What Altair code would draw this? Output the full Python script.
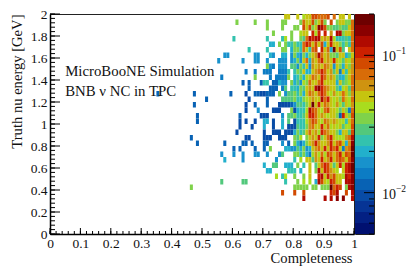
import altair as alt
import pandas as pd

FONT = "Liberation Serif"
Z_MIN, Z_MAX = 0.005, 0.2
CODES = "0123456789abcdefghij"
PALETTE = ["#001070", "#032083", "#063495", "#084ba6", "#0862b4", "#0c7cc4", "#1892cc",
           "#22b0cc", "#33c2ae", "#52c87c", "#7fd24a", "#a9dc1e", "#c6c40f", "#cf9310",
           "#d86c08", "#d24a00", "#cc2000", "#b00a00", "#8a0000", "#6e0000"]

# Dense part: completeness bins 0.81 .. 0.99, energy bins 39 (top) down to 6; band code per cell.
DENSE_FIRST_BIN = 81
DENSE_TOP_ROW = 39
DENSE = [
    "c.bccffeeef.e.cc.c.",
    ".aeccfacfa.f.accaae",
    "a.fcfacihfaa99a99ce",
    ".bcc.gbg.g.d.hhacce",
    ".a9ehghhcdchb88898e",
    "88egfcfcf7cgcca8a8e",
    "a8ec8ef.gce7jcf9.ce",
    "76a7acdhecdaa9cc79c",
    "a6ce7dcegcdcgcb9cbd",
    "6a8c6dcdcedc6ca7cad",
    "a9c77cdegecd9c5c8cd",
    "8a7bcedcgecdc977ace",
    "96baeccegcccc7c9abe",
    "7a9cdchigedcc97bc9e",
    "8a7cedcegecbdbcecad",
    "88abcdcchegcbcaecbe",
    "998acjcgcedcbdb9cbd",
    "788bhfecbefccb9ca5e",
    "889cggecdcbcca4gcaf",
    "888bdfecbedcdcbb8ce",
    "988adeccgcebcbc9bbf",
    "a89cecdbgedcca7cc9f",
    "9b.acdcgacegcbbbdeh",
    "757acdgdccdgcefc7di",
    "97a67cdecgcgegc5dej",
    "a8a75bdbebfecegcfej",
    ".b.cc9dcgcdgcefecfi",
    "a.8.c.9cegfc9cgbghj",
    ".7..c.ahcgfdcb.cghj",
    "..a.c..ghcgdfccbhgi",
    "a.b.b.7hfcbgfcc.hhi",
    "aaaa.aa.aaajegf.ahi",
    "..f........gfh..f.h",
    "..h......h.h.i.i..h",
]

# Sparse part: energy bin -> "bin:band" tokens for completeness bins below 0.81.
SPARSE = {
    39: "77:c 78:c",
    38: "61:a 67:a 71:a 76:a 77:a",
    37: "71:a 76:a 80:a",
    36: "73:a 79:a",
    35: "60:8 71:8 76:8 77:b 79:a",
    34: "72:7 73:7 75:a 77:a 78:8 79:8 80:a",
    33: "65:8 71:8 76:a 77:a 79:7 80:a",
    32: "57:6 58:6 67:6 68:6 72:7 73:6 76:7 77:7 79:6 80:a",
    31: "55:6 63:6 67:6 68:6 71:6 75:6 76:6 77:6 79:6 80:7",
    30: "71:a 72:6 73:5 75:6 76:6 77:6 79:9 80:9",
    29: "64:5 67:5 70:5 71:5 72:5 75:5 76:5 77:5 78:8 80:8",
    28: "56:5 67:a 72:5 74:5 75:5 76:5 77:5 78:a 80:7",
    27: "63:4 65:4 69:4 70:8 71:8 73:4 74:4 75:7 76:6 77:6 79:a 80:7",
    26: "65:4 72:4 73:4 74:4 76:5 77:9 79:8 80:8",
    25: "35:4 47:4 59:4 64:3 67:4 68:4 69:3 70:3 71:4 72:4 73:4 75:a 77:6 78:9 79:9 80:a",
    24: "51:4 65:3 71:4 76:9 77:9 78:9 79:9 80:a",
    23: "47:4 64:3 67:4 71:4 75:3 76:3 77:3 78:3 79:4 80:6",
    22: "64:3 68:6 73:3 74:3 75:3 79:a 80:3",
    21: "48:4 62:4 69:3 70:3 71:3 76:6 78:9 79:9 80:a",
    20: "48:4 62:3 64:3 67:3 70:7 71:7 73:3 76:7 78:9 80:3",
    19: "62:3 66:3 70:7 73:3 76:7 78:3 79:3 80:3",
    18: "61:3 70:3 73:3 74:3 75:3 77:3 78:3 79:3 80:7",
    17: "46:4 64:3 65:3 70:3 71:3 72:3 75:3 76:3 77:3 80:a",
    16: "48:4 57:4 63:4 64:4 66:4 70:4 71:4 76:6 78:4 80:a",
    15: "60:4 62:4 67:4 70:4 72:a 77:7 78:7 79:6 80:6",
    14: "56:6 60:6 63:6 67:6 68:6 71:6 75:6 76:9 80:a",
    13: "57:7 63:6 74:6 80:8",
    12: "70:7 73:9 74:9 77:7 78:7 79:7",
    11: "71:7 72:7 78:8 79:8 80:8",
    10: "74:b 76:8 77:b 80:a",
    9: "56:9 63:9 64:9 77:8",
    8: "46:a 80:a",
    7: "76:f 80:f",
}

X_LABELS = [0, 0.1, 0.2, 0.3, 0.4, 0.5, 0.6, 0.7, 0.8, 0.9, 1]
Y_LABELS = [0, 0.2, 0.4, 0.6, 0.8, 1, 1.2, 1.4, 1.6, 1.8, 2]
X_MINOR = [round(i * 0.02, 2) for i in range(51)]
Y_MINOR = [round(i * 0.04, 2) for i in range(51)]
Z_MAJOR = [0.01, 0.1]
Z_MINOR = [0.005, 0.006, 0.007, 0.008, 0.009, 0.02, 0.03, 0.04, 0.05, 0.06, 0.07, 0.08, 0.09, 0.2]
NOTES = ["MicroBooNE Simulation", "BNB \u03bd NC in TPC"]
NOTE_Y = [1.436, 1.255]

step = (Z_MAX / Z_MIN) ** (1 / len(PALETTE))
edges = [Z_MIN * step ** k for k in range(len(PALETTE) + 1)]
centres = [Z_MIN * step ** (k + 0.5) for k in range(len(PALETTE))]

rows = []
def add(col, row, code):
    rows.append({"x": col * 0.01, "x2": (col + 1) * 0.01, "y": row * 0.05, "y2": (row + 1) * 0.05,
                 "value": centres[CODES.index(code)]})
for i, text in enumerate(DENSE):
    for j, code in enumerate(text):
        if code != ".":
            add(DENSE_FIRST_BIN + j, DENSE_TOP_ROW - i, code)
for row, tokens in SPARSE.items():
    for token in tokens.split():
        col, code = token.split(":")
        add(int(col), row, code)
cells = pd.DataFrame(rows)

xs = alt.Scale(domain=[0, 1], nice=False, zero=False)
ys = alt.Scale(domain=[0, 2], nice=False, zero=False)
W, H = 304, 220

AX_X = alt.Axis(
    values=X_LABELS, format="~g", tickSize=0, grid=False, labelPadding=2, labelOverlap=False,
    labelFont=FONT, labelFontSize=13.5, labelColor="#111", labelFlush=False,
    domainColor="black", domainWidth=1.5, title="Completeness", titleFont=FONT,
    titleFontSize=14.6, titleFontWeight="normal", titleColor="#111", titleAnchor="end",
    titleAlign="right", titleX=302, titlePadding=1)
AX_Y = alt.Axis(
    values=Y_LABELS, format="~g", tickSize=0, grid=False, labelPadding=3, labelOverlap=False,
    labelFont=FONT, labelFontSize=13.5, labelColor="#111", labelFlush=False,
    domainColor="black", domainWidth=1.5, title="Truth nu energy [GeV]", titleFont=FONT,
    titleFontSize=14.6, titleFontWeight="normal", titleColor="#111", titleAnchor="end",
    titleBaseline="alphabetic", titleX=-29)

heat = alt.Chart(cells).mark_rect(strokeWidth=0).encode(
    x=alt.X("x:Q", scale=xs, axis=AX_X),
    x2="x2:Q",
    y=alt.Y("y:Q", scale=ys, axis=AX_Y),
    y2="y2:Q",
    color=alt.Color("value:Q", scale=alt.Scale(type="threshold", domain=edges[1:-1], range=PALETTE), legend=None),
)

def ticks_x(vals, length, width):
    return alt.Chart(pd.DataFrame({"x": vals})).mark_rule(color="black", strokeWidth=width).encode(
        x=alt.X("x:Q", scale=xs, axis=AX_X), y=alt.value(H), y2=alt.value(H - length))

def ticks_y(vals, length, width):
    return alt.Chart(pd.DataFrame({"y": vals})).mark_rule(color="black", strokeWidth=width).encode(
        y=alt.Y("y:Q", scale=ys, axis=AX_Y), x=alt.value(0), x2=alt.value(length))

notes = alt.Chart(pd.DataFrame({"t": NOTES, "y": NOTE_Y, "x": [0.05, 0.05]})).mark_text(
    font=FONT, fontSize=14.8, align="left", baseline="alphabetic", color="#111"
).encode(x=alt.X("x:Q", scale=xs, axis=AX_X), y=alt.Y("y:Q", scale=ys, axis=AX_Y), text="t:N")

main = alt.layer(heat, ticks_x(X_MINOR, 3, 1), ticks_x(X_LABELS, 6, 1),
                 ticks_y(Y_MINOR, 5, 1), ticks_y(Y_LABELS, 10, 1), notes
                 ).resolve_scale(color="independent").properties(width=W, height=H)

bar_df = pd.DataFrame({"lo": edges[:-1], "hi": edges[1:], "value": centres})
zs = alt.Scale(type="log", domain=[Z_MIN, Z_MAX], nice=False)
bar = alt.Chart(bar_df).mark_rect(strokeWidth=0).encode(
    x=alt.value(0), x2=alt.value(19),
    y=alt.Y("lo:Q", scale=zs, axis=None), y2="hi:Q",
    color=alt.Color("value:Q", scale=alt.Scale(type="threshold", domain=edges[1:-1], range=PALETTE), legend=None),
)
def ticks_z(vals, length):
    return alt.Chart(pd.DataFrame({"z": vals})).mark_rule(color="black", strokeWidth=1).encode(
        y=alt.Y("z:Q", scale=zs, axis=None), x=alt.value(19), x2=alt.value(19 - length))

z_text = pd.DataFrame({"z": Z_MAJOR, "base": ["10", "10"], "exp": ["\u22122", "\u22121"]})
z_base = alt.Chart(z_text).mark_text(font=FONT, fontSize=14, align="left", baseline="middle", dy=2, color="#111").encode(
    y=alt.Y("z:Q", scale=zs, axis=None), x=alt.value(27), text="base:N")
z_exp = alt.Chart(z_text).mark_text(font=FONT, fontSize=9.5, align="left", baseline="middle", dy=-4, color="#111").encode(
    y=alt.Y("z:Q", scale=zs, axis=None), x=alt.value(41), text="exp:N")
side = alt.layer(bar, ticks_z(Z_MINOR, 5), ticks_z(Z_MAJOR, 10), z_base, z_exp).properties(width=19, height=H)

chart = alt.hconcat(main, side, spacing=1).resolve_scale(color="independent").properties(
    padding={"left": 0, "top": -2, "right": 0, "bottom": 0}, background="white", bounds="flush"
).configure_view(stroke="#222", strokeWidth=1)

chart.save("out.html", embed_options={"renderer": "svg", "actions": False})
